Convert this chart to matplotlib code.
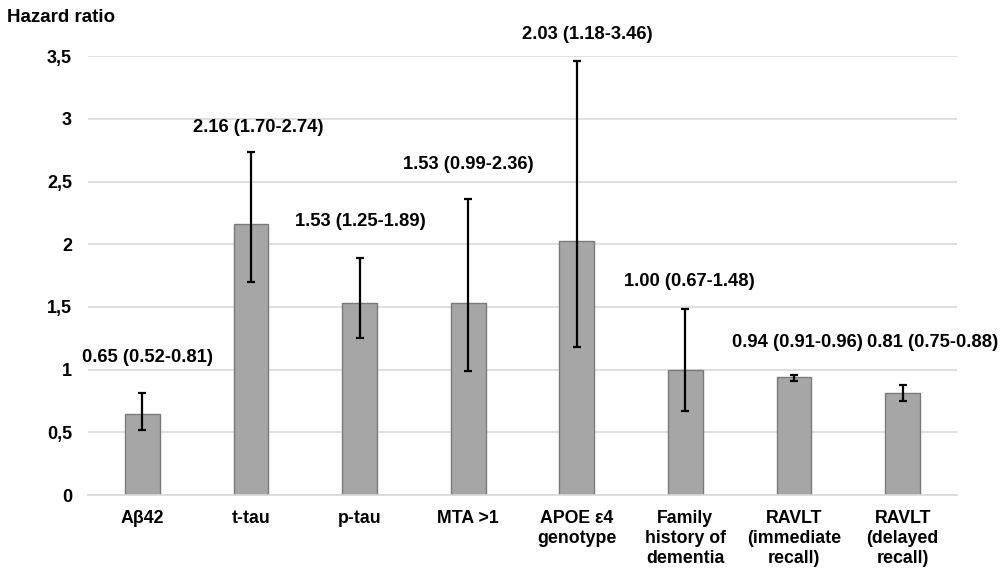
import matplotlib

matplotlib.use("Agg")
import matplotlib.pyplot as plt
import numpy as np

plt.rcParams["font.family"] = ["Liberation Sans", "DejaVu Sans"]
plt.rcParams["font.weight"] = "bold"

# data
categories = [
    "Aβ42",
    "t-tau",
    "p-tau",
    "MTA >1",
    "APOE ε4\ngenotype",
    "Family\nhistory of\ndementia",
    "RAVLT\n(immediate\nrecall)",
    "RAVLT\n(delayed\nrecall)",
]
hazard_ratio = [0.65, 2.16, 1.53, 1.53, 2.03, 1.00, 0.94, 0.81]
ci_low = [0.52, 1.70, 1.25, 0.99, 1.18, 0.67, 0.91, 0.75]
ci_high = [0.81, 2.74, 1.89, 2.36, 3.46, 1.48, 0.96, 0.88]
y_ticks = [0, 0.5, 1, 1.5, 2, 2.5, 3, 3.5]
y_tick_labels = ["0", "0,5", "1", "1,5", "2", "2,5", "3", "3,5"]

# where each value label sits (manual placement, as in the original)
label_y = [1.10, 2.93, 2.18, 2.64, 3.67, 1.70, 1.22, 1.22]
label_dx = [0.05, 0.07, 0.01, 0.0, 0.10, 0.04, 0.03, 0.28]

BAR_COLOR = "#a6a6a6"
EDGE_COLOR = "#7a7a7a"
GRID_COLOR = "#d9d9d9"

fig = plt.figure(figsize=(10.07, 5.72), dpi=100)
ax = fig.add_axes([0.0874, 0.1346, 0.8629, 0.767])

x = np.arange(len(categories))
hr = np.array(hazard_ratio)
yerr = np.vstack([hr - np.array(ci_low), np.array(ci_high) - hr])

ax.bar(x, hr, width=0.32, color=BAR_COLOR, edgecolor=EDGE_COLOR, linewidth=1.0, zorder=2)
ax.errorbar(
    x, hr, yerr=yerr, fmt="none", ecolor="black", elinewidth=1.6,
    capsize=3.2, capthick=1.6, zorder=3,
)

for i in range(len(categories)):
    txt = f"{hazard_ratio[i]:.2f} ({ci_low[i]:.2f}-{ci_high[i]:.2f})"
    ax.text(x[i] + label_dx[i], label_y[i], txt, ha="center", va="center",
            fontsize=13.2, fontweight="bold", color="black")

ax.set_xlim(-0.5, len(categories) - 0.5)
ax.set_ylim(0, 3.5)
ax.set_yticks(y_ticks)
ax.set_yticklabels(y_tick_labels, fontsize=13, fontweight="bold")
ax.set_xticks(x)
ax.set_xticklabels(categories, fontsize=12.8, fontweight="bold", linespacing=1.22)
ax.tick_params(axis="y", length=0, pad=11.5)
ax.tick_params(axis="x", length=0, pad=11)

ax.yaxis.grid(True, color=GRID_COLOR, linewidth=1.2, zorder=0)
ax.set_axisbelow(True)
for side in ["top", "right", "left"]:
    ax.spines[side].set_visible(False)
ax.spines["bottom"].set_color(GRID_COLOR)
ax.spines["bottom"].set_linewidth(1.2)

fig.text(0.007, 0.970, "Hazard ratio", ha="left", va="center",
         fontsize=13.5, fontweight="bold")

fig.savefig("out.png", dpi=100)
